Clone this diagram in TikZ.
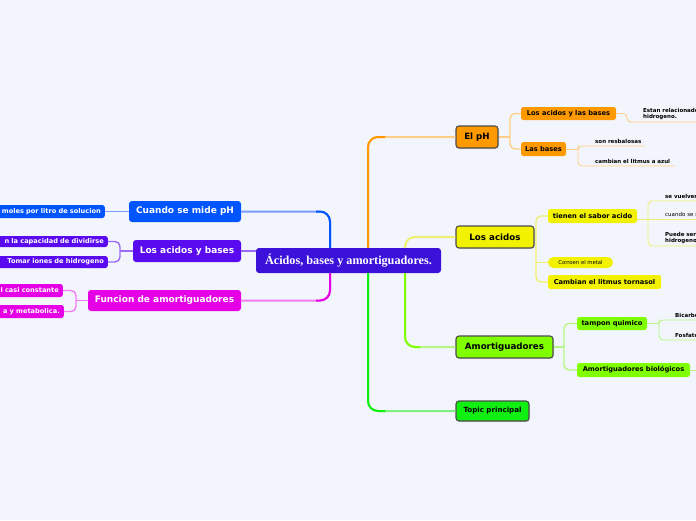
\documentclass[tikz,border=0pt]{standalone}
\usepackage{fontspec}
\setmainfont{DejaVu Sans}
\newfontfamily\rootfont{Liberation Serif}
\usetikzlibrary{shadows}
\definecolor{bg}{HTML}{F3F5FC}
\definecolor{rootc}{HTML}{3A12D9}
\definecolor{cblue}{HTML}{0055FF}
\definecolor{cpurp}{HTML}{5A0AEE}
\definecolor{cmag}{HTML}{E600E6}
\definecolor{corg}{HTML}{FF9900}
\definecolor{cyel}{HTML}{F2F200}
\definecolor{clime}{HTML}{80FF00}
\definecolor{cgrn}{HTML}{11EE11}
\definecolor{lblue}{HTML}{7A9CFF}
\definecolor{lpurp}{HTML}{9A6CF5}
\definecolor{lmag}{HTML}{F27AF2}
\definecolor{lorg}{HTML}{FFCF8A}
\definecolor{lyel}{HTML}{F0F070}
\definecolor{llime}{HTML}{B8F586}
\definecolor{lgrn}{HTML}{80F080}
\tikzset{
  rootbox/.style={rounded corners=3pt, fill=rootc, text=white, inner sep=0pt,
    font=\rootfont\bfseries\fontsize{12.2}{14}\selectfont},
  lonel/.style={rounded corners=3pt, inner sep=0pt, text=white,
    font=\bfseries\fontsize{9}{11}\selectfont},
  loner/.style={rounded corners=3pt, inner sep=0pt, draw=black!70, line width=1.1pt,
    font=\bfseries\fontsize{8.7}{10}\selectfont,
    drop shadow={opacity=0.2, shadow xshift=1pt, shadow yshift=-1pt}},
  ltwo/.style={rounded corners=2.5pt, inner sep=0pt, font=\bfseries\fontsize{6.7}{8}\selectfont},
  ltwol/.style={rounded corners=2.5pt, inner xsep=4pt, inner ysep=0pt, text=white,
    anchor=east, text width=130pt, align=right, font=\bfseries\fontsize{6.6}{8}\selectfont},
  pill/.style={rounded corners=5.5pt, inner sep=0pt, font=\fontsize{5.3}{6}\selectfont},
  leaf/.style={inner xsep=0pt, inner ysep=1.8pt, anchor=south west, align=left,
    font=\bfseries\fontsize{5.5}{6.8}\selectfont},
  mainc/.style={line width=2pt, rounded corners=10pt},
  c2/.style={line width=1.4pt, rounded corners=5pt},
  c3/.style={line width=0.9pt, rounded corners=4pt},
}
\begin{document}
\begin{tikzpicture}[x=1pt,y=-1pt]
\fill[bg] (0,0) rectangle (696,520);
\useasboundingbox (0,0) rectangle (696,520);
\clip (0,0) rectangle (696,520);

% root
\node[rootbox, minimum width=185pt, minimum height=25pt] (root) at (348.5,260.5) {Ácidos, bases y amortiguadores.};

% right level 1
\node[loner, fill=corg, minimum width=42pt, minimum height=22pt] (elph) at (477,137) {El pH};
\node[loner, fill=cyel, minimum width=78pt, minimum height=22pt] (acidos) at (495,237) {Los acidos};
\node[loner, fill=clime, minimum width=97pt, minimum height=22pt] (amort) at (504.5,347) {Amortiguadores};
\node[loner, fill=cgrn, minimum width=73pt, minimum height=20pt, font=\bfseries\fontsize{7.1}{8}\selectfont] (topic) at (492.5,411) {Topic principal};

% right level 2
\node[ltwo, fill=corg, minimum width=95pt, minimum height=13pt] (ab) at (568.5,113.5) {Los acidos y las bases};
\node[ltwo, fill=corg, minimum width=45pt, minimum height=14pt] (bases) at (543.5,149) {Las bases};
\node[ltwo, fill=cyel, minimum width=89pt, minimum height=14pt] (sabor) at (592.5,216) {tienen el sabor acido};
\node[pill, fill=cyel, minimum width=65pt, minimum height=11pt] (corroen) at (580.5,262.5) {Corroen el metal};
\node[ltwo, fill=cyel, minimum width=113pt, minimum height=14pt] (litmus) at (604.5,282) {Cambian el litmus tornasol};
\node[ltwo, fill=clime, minimum width=70pt, minimum height=13pt] (tampon) at (612,323.5) {tampon quimico};
\node[ltwo, fill=clime, minimum width=113pt, minimum height=14pt] (biol) at (633.5,370) {Amortiguadores biológicos};

% right level 3
\node[leaf, text width=60pt] (estan) at (643,122) {Estan relacionados\\hidrogeno.};
\node[leaf, text width=50pt] (resb) at (595,146) {son resbalosas};
\node[leaf, text width=79pt] (azul) at (595,166) {cambian el litmus a azul};
\node[leaf, text width=40pt] (sv) at (665,201) {se vuelven};
\node[leaf, text width=40pt, font=\fontsize{5.5}{6.8}\selectfont] (cm) at (665,219) {cuando se m};
\node[leaf, text width=40pt] (ps) at (665,246) {Puede ser\\hidrogeno};
\node[leaf, text width=30pt] (bic) at (675,320) {Bicarbo};
\node[leaf, text width=30pt] (fos) at (675,340) {Fosfato};
\coordinate (bioend) at (700,370);

% left level 1
\node[lonel, fill=cblue, minimum width=112pt, minimum height=21pt] (mide) at (185,211.5) {Cuando se mide pH};
\node[lonel, fill=cpurp, minimum width=108pt, minimum height=22pt] (lab) at (187,251) {Los acidos y bases};
\node[lonel, fill=cmag, minimum width=153pt, minimum height=21pt] (func) at (164.5,300.5) {Funcion de amortiguadores};

% left level 2
\node[ltwol, fill=cblue, minimum height=13pt] (moles) at (105,211.5) {moles por litro de solucion};
\node[ltwol, fill=cpurp, minimum height=11pt] (divid) at (108,241.5) {n la capacidad de dividirse};
\node[ltwol, fill=cpurp, minimum height=12pt] (tomar) at (108,262) {Tomar iones de hidrogeno};
\node[ltwol, fill=cmag, minimum height=13pt] (casi) at (63,290.5) {l casi constante};
\node[ltwol, fill=cmag, minimum height=13pt] (metab) at (64,311.5) {a y metabolica.};

% main connectors
\draw[mainc, lblue] ([xshift=-18.5pt]root.north) |- (mide.east);
\draw[mainc, cblue] ([xshift=-18.5pt]root.north) |- ([xshift=75pt]mide.east);
\draw[line width=2pt, lpurp] (root.west |- lab.east) -- (lab.east);
\draw[mainc, lmag] ([xshift=-18.5pt]root.south) |- (func.east);
\draw[mainc, cmag] ([xshift=-18.5pt]root.south) |- ([xshift=75pt]func.east);

\draw[mainc, lorg] ([xshift=19.5pt]root.north) |- (elph.west);
\draw[mainc, corg] ([xshift=19.5pt]root.north) |- ([xshift=-70pt]elph.west);
\draw[mainc, lyel] ([xshift=56.5pt]root.north) |- (acidos.west);
\draw[mainc, llime] ([xshift=56.5pt]root.south) |- (amort.west);
\draw[mainc, clime] ([xshift=56.5pt]root.south) |- ([xshift=-35pt]amort.west);
\draw[mainc, lgrn] ([xshift=19.5pt]root.south) |- (topic.west);
\draw[mainc, cgrn] ([xshift=19.5pt]root.south) |- ([xshift=-70pt]topic.west);

% level 2 connectors right
\coordinate (bE) at (510,137);
\draw[c2, lorg] (ab.west) -| (bE) |- (bases.west);
\draw[c2, lorg] (elph.east) -- (bE);
\coordinate (bA) at (536,237);
\draw[c2, lyel] (sabor.west) -| (bA) |- (litmus.west);
\draw[c2, lyel] (acidos.east) -- (bA);
\draw[c2, lyel] (bA |- corroen.west) -- (corroen.west);
\coordinate (bM) at (564,347);
\draw[c2, llime] (tampon.west) -| (bM) |- (biol.west);
\draw[c2, llime] (amort.east) -- (bM);

% level 3 connectors right
\draw[c3, lorg] (ab.east) -| ([xshift=-16pt]estan.south west) -- (estan.south east);
\coordinate (bB) at (578,149);
\draw[c3, lorg] (resb.south east) -- (resb.south west) -| (bB) |- (azul.south west) -- (azul.south east);
\draw[c3, lorg] (bases.east) -- (bB);
\coordinate (bS) at (648,219);
\draw[c3, lyel] (sv.south east) -- (sv.south west) -| (bS) |- (ps.south west) -- (ps.south east);
\draw[c3, lyel] (sabor.east |- cm.south west) -- (cm.south east);
\coordinate (bT) at (659,323.5);
\draw[c3, llime] (bic.south east) -- (bic.south west) -| (bT) |- (fos.south west) -- (fos.south east);
\draw[c3, llime] (tampon.east) -- (bT);
\draw[c3, llime] (biol.east) -- (bioend);

% left level 2 connectors
\draw[c2, lblue] (mide.west) -- (moles.east);
\coordinate (bL) at (120,251);
\draw[c2, lpurp] (divid.east) -| (bL) |- (tomar.east);
\draw[c2, lpurp] (lab.west) -- (bL);
\coordinate (bF) at (76,300.5);
\draw[c2, lmag] (casi.east) -| (bF) |- (metab.east);
\draw[c2, lmag] (func.west) -- (bF);
\end{tikzpicture}
\end{document}
